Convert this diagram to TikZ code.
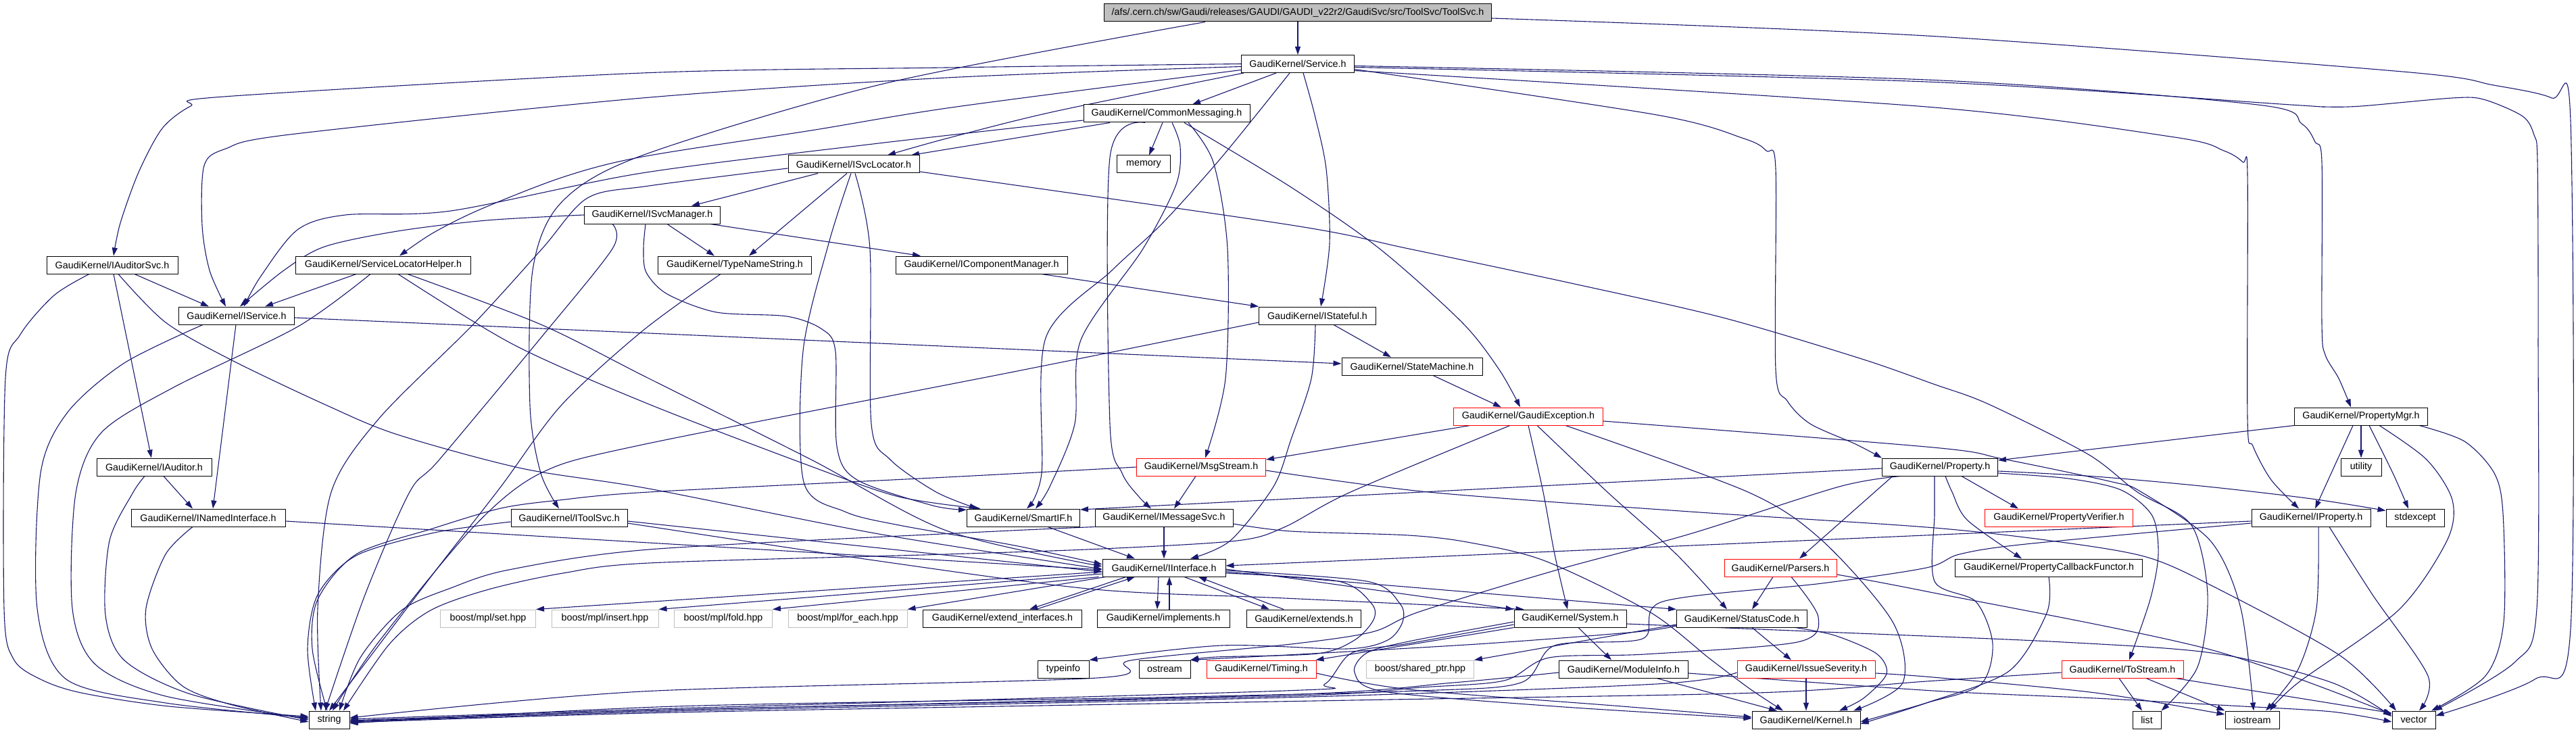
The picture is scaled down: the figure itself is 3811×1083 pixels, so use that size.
\documentclass[tikz,border=0pt]{standalone}
\usepackage{fontspec}
\setmainfont{Liberation Sans}
\usetikzlibrary{arrows.meta}
\definecolor{eb}{HTML}{191970}
\definecolor{rootgray}{HTML}{BFBFBF}
\definecolor{lgray}{HTML}{BFBFBF}
\pgfdeclarelayer{bg}
\pgfsetlayers{bg,main}
\tikzset{
  nd/.style={draw=black, line width=1pt, fill=white, rectangle, inner sep=0pt, minimum height=26pt, font=\fontsize{14.3}{17}\selectfont, text=black},
  rd/.style={nd, draw=red},
  gd/.style={nd, draw=lgray},
  ed/.style={draw=eb, line width=1.1pt, -{Triangle[length=12pt,width=8pt]}},
}
\newcommand{\edg}[1]{\draw[ed] plot[smooth, tension=0.5] coordinates {#1};}
\begin{document}
\begin{tikzpicture}[x=1pt,y=-1pt]
\useasboundingbox (0,0) rectangle (3811,1083);
% nodes
\node[nd, fill=rootgray, minimum width=573] (root) at (1920,19) {/afs/.cern.ch/sw/Gaudi/releases/GAUDI/GAUDI\_v22r2/GaudiSvc/src/ToolSvc/ToolSvc.h};
\node[nd, minimum width=167] (Service) at (1920,94.5) {GaudiKernel/Service.h};
\node[nd, minimum width=246] (CM) at (1726,168) {GaudiKernel/CommonMessaging.h};
\node[nd, minimum width=194] (SL) at (1263,243) {GaudiKernel/ISvcLocator.h};
\node[nd, minimum width=79] (mem) at (1692,243) {memory};
\node[nd, minimum width=201] (SM) at (965,318) {GaudiKernel/ISvcManager.h};
\node[nd, minimum width=194] (AS) at (166,392) {GaudiKernel/IAuditorSvc.h};
\node[nd, minimum width=259] (SLH) at (567,392) {GaudiKernel/ServiceLocatorHelper.h};
\node[nd, minimum width=227] (TNS) at (1087,392) {GaudiKernel/TypeNameString.h};
\node[nd, minimum width=254] (ICM) at (1452,392) {GaudiKernel/IComponentManager.h};
\node[nd, minimum width=171] (IS) at (350,467) {GaudiKernel/IService.h};
\node[nd, minimum width=173] (ISt) at (1949,467) {GaudiKernel/IStateful.h};
\node[nd, minimum width=208] (StM) at (2089,542) {GaudiKernel/StateMachine.h};
\node[rd, minimum width=221] (GE) at (2261,616) {GaudiKernel/GaudiException.h};
\node[nd, minimum width=197] (PM) at (3493,616) {GaudiKernel/PropertyMgr.h};
\node[nd, minimum width=170] (IA) at (228,691) {GaudiKernel/IAuditor.h};
\node[rd, minimum width=191] (MS) at (1777,691) {GaudiKernel/MsgStream.h};
\node[nd, minimum width=171] (Prop) at (2870,691) {GaudiKernel/Property.h};
\node[nd, minimum width=60] (util) at (3493,691) {utility};
\node[nd, minimum width=228] (INI) at (308,766) {GaudiKernel/INamedInterface.h};
\node[nd, minimum width=172] (ITS) at (842,766) {GaudiKernel/IToolSvc.h};
\node[nd, minimum width=167] (SIF) at (1514,766) {GaudiKernel/SmartIF.h};
\node[nd, minimum width=204] (IMS) at (1722,766) {GaudiKernel/IMessageSvc.h};
\node[rd, minimum width=219] (PV) at (3046,766) {GaudiKernel/PropertyVerifier.h};
\node[nd, minimum width=176] (IP) at (3419,766) {GaudiKernel/IProperty.h};
\node[nd, minimum width=86] (stdx) at (3573,766) {stdexcept};
\node[nd, minimum width=182] (II) at (1722,840) {GaudiKernel/IInterface.h};
\node[rd, minimum width=166] (Pa) at (2634,840) {GaudiKernel/Parsers.h};
\node[nd, minimum width=277] (PCF) at (3031,840) {GaudiKernel/PropertyCallbackFunctor.h};
\node[gd, minimum width=141] (bset) at (722,915) {boost/mpl/set.hpp};
\node[gd, minimum width=158] (bins) at (895,915) {boost/mpl/insert.hpp};
\node[gd, minimum width=145] (bfold) at (1070,915) {boost/mpl/fold.hpp};
\node[gd, minimum width=176] (bfe) at (1254,915) {boost/mpl/for\_each.hpp};
\node[nd, minimum width=235] (ei) at (1483,915) {GaudiKernel/extend\_interfaces.h};
\node[nd, minimum width=196] (impl) at (1721,915) {GaudiKernel/implements.h};
\node[nd, minimum width=169] (ext) at (1929,915) {GaudiKernel/extends.h};
\node[nd, minimum width=166] (Sys) at (2323,915) {GaudiKernel/System.h};
\node[nd, minimum width=193] (SC) at (2577,915) {GaudiKernel/StatusCode.h};
\node[nd, minimum width=76] (ti) at (1573,990) {typeinfo};
\node[nd, minimum width=76] (os) at (1723,990) {ostream};
\node[rd, minimum width=162] (Tim) at (1866,990) {GaudiKernel/Timing.h};
\node[gd, minimum width=159] (bsp) at (2101,990) {boost/shared\_ptr.hpp};
\node[nd, minimum width=191] (MI) at (2402,990) {GaudiKernel/ModuleInfo.h};
\node[rd, minimum width=204] (ISev) at (2672,990) {GaudiKernel/IssueSeverity.h};
\node[rd, minimum width=180] (TS) at (3140,990) {GaudiKernel/ToStream.h};
\node[nd, minimum width=60] (str) at (487,1065) {string};
\node[nd, minimum width=160] (Ker) at (2672,1065) {GaudiKernel/Kernel.h};
\node[nd, minimum width=42] (lst) at (3176,1065) {list};
\node[nd, minimum width=80] (ios) at (3332,1065) {iostream};
\node[nd, minimum width=64] (vec) at (3571,1065) {vector};
% edges
\begin{pgfonlayer}{bg}
% root
\draw[ed] (root.south) -- (Service.north);
\edg{([xshift=-137]root.south) (1311,123) (950,230) (830,300) (788,400) (784,600) (800,700) ([xshift=-15]ITS.north)}
\edg{([yshift=-8]root.east) (2850,53) (3554,106) (3689,126) (3775,145) (3803,180) (3803,930) (3750,1005) ([yshift=6]vec.east)}
% Service
\draw[ed] ([xshift=-32]Service.south) -- ([xshift=38]CM.north);
\edg{([xshift=-80]Service.south) (1560,165) (1400,205) ([xshift=50]SL.north)}
\edg{(Service.west) (1400,100) (950,108) (331,143) (282,157) (240,190) (205,255) (178,330) ([xshift=2]AS.north)}
\edg{([yshift=-4]Service.west) (1400,115) (950,145) (429,199) (334,220) (302,245) (299,333) (310,400) ([xshift=-16]IS.north)}
\edg{([yshift=-9]Service.west) (1415,158) (1200,193) (950,232) (833,262) (710,310) (640,345) ([xshift=24]SLH.north)}
\edg{([xshift=-12]Service.south) (1807,233) (1720,330) (1645,400) (1547,500) (1541,700) ([xshift=5]SIF.north)}
\edg{([xshift=8]Service.south) (1945,170) (1962,250) (1967,360) ([xshift=5]ISt.north)}
\edg{([yshift=-8]Service.east) (2451,170) (2580,205) (2613,223) (2627,250) (2627,547) (2644,593) (2678,627) (2745,657) (Prop.north west)}
\edg{([yshift=-3]Service.east) (2850,118) (3340,155) (3405,183) (3425,210) (3435,240) (3435,480) (3440,525) (3460,560) ([xshift=-15]PM.north)}
\edg{([yshift=-5]Service.east) (2850,121) (3389,155) (3438,158) (3493,157) (3628,145) (3674,147) (3732,172) (3749,200) (3754,240) (3755,500) (3753,900) (3720,980) ([xshift=30]vec.north)}
\edg{([yshift=-10]Service.east) (2850,158) (3217,203) (3290,223) (3318,240) (3325,260) (3325,620) (3333,660) (3360,710) ([xshift=-18]IP.north)}
% CommonMessaging
\draw[ed] ([xshift=-84]CM.south) -- ([xshift=85]SL.north);
\draw[ed] ([xshift=-6]CM.south) -- ([xshift=8]mem.north);
\edg{([yshift=-10]CM.west) (1300,212) (950,256) (667,312) (511,318) (440,340) (385,410) ([xshift=11]IS.north)}
\edg{([xshift=8]CM.south) (1746,217) (1740,273) (1691,368) (1599,503) (1590,627) (1553,720) ([xshift=18]SIF.north)}
\edg{([xshift=-32]CM.south) (1642,233) (1642,627) (1660,700) (1685,735) ([xshift=-19]IMS.north)}
\edg{([xshift=32]CM.south) (1795,240) (1816,368) (1813,560) ([xshift=6]MS.north)}
\edg{([xshift=26]CM.south) (1910,277) (2041,368) (2163,477) (2218,547) ([xshift=-12]GE.north)}
% ISvcLocator
\draw[ed] ([xshift=-53]SL.south) -- ([xshift=58]SM.north);
\draw[ed] ([xshift=-10]SL.south) -- ([xshift=21]TNS.north);
\edg{([xshift=2]SL.south) (1287,368) (1289,627) (1317,680) (1385,728) ([xshift=-68]SIF.north)}
\edg{([xshift=-4]SL.south) (1226,360) (1188,520) (1189,713) (1250,757) (1330,777) (1501,807) ([yshift=5]II.west)}
\edg{([yshift=-6]SL.west) (960,275) (869,293) (802,368) (700,480) (560,620) (490,728) (470,900) ([xshift=-12]str.north)}
\edg{([yshift=-11]SL.east) (1910,333) (2084,368) (2329,420) (2549,470) (2751,530) (2860,568) (2942,598) (3089,672) (3162,728) (3242,777) (3266,880) (3251,987) (lst.north east)}
% ISvcManager
\edg{(SM.west) (720,326) (588,342) (480,365) (420,400) ([xshift=5]IS.north)}
\draw[ed] ([xshift=22]SM.south) -- ([xshift=-30]TNS.north);
\draw[ed] ([xshift=86]SM.south) -- ([xshift=-90]ICM.north);
\edg{([xshift=-59]SM.south) (906,368) (800,500) (650,680) (606,728) (540,880) ([xshift=-6]str.north)}
\edg{([xshift=-10]SM.south) (952,368) (956,403) (987,435) (1060,462) (1164,468) (1216,487) (1236,520) (1238,660) (1268,710) (1380,748) (SIF.172)}
% IAuditorSvc
\draw[ed] ([xshift=33]AS.south) -- ([xshift=-41]IS.north);
\draw[ed] ([xshift=2]AS.south) -- ([xshift=-4]IA.north);
\edg{([xshift=-34]AS.south) (80,437) (30,495) (8,560) (6,900) (20,975) (60,1005) (120,1025) (250,1045) ([yshift=5]str.west)}
\edg{([xshift=9]AS.south) (245,477) (343,533) (484,600) (588,643) (772,693) (960,723) (1300,790) ([yshift=-2]II.west)}
% ServiceLocatorHelper
\draw[ed] ([xshift=-40]SLH.south) -- ([xshift=42]IS.north);
\edg{([xshift=22]SLH.south) (760,510) (960,598) (1200,690) (1330,735) (SIF.168)}
\edg{([xshift=36]SLH.south) (800,480) (960,560) (1200,680) (1400,785) ([yshift=2]II.west)}
\edg{([xshift=-19]SLH.south) (441,483) (257,573) (150,640) (112,730) (107,900) (141,983) (245,1030) ([yshift=2]str.west)}
% IService
\draw[ed] ([xshift=-1]IS.south) -- ([xshift=7]INI.north);
\draw[ed] ([yshift=-3]IS.east) -- ([yshift=4]StM.west);
\edg{([xshift=-50]IS.south) (184,537) (100,610) (60,700) (55,900) (98,1005) (245,1040) ([yshift=3]str.west)}
% IAuditor, INamedInterface
\draw[ed] ([xshift=14]IA.south) -- ([xshift=-23]INI.north);
\edg{([xshift=-14]IA.south) (196,730) (162,800) (156,910) (184,977) (282,1027) (str.west)}
\edg{([xshift=-23]INI.south) (245,820) (216,900) (225,960) (270,1015) (340,1042) ([yshift=-3]str.west)}
\draw[ed] ([yshift=-5]INI.east) -- ([yshift=-3]II.west);
% IToolSvc
\draw[ed] ([yshift=-5]ITS.east) -- ([yshift=-6]II.west);
\edg{([yshift=-8]ITS.east) (1300,830) (1620,872) (1900,885) ([xshift=15]Sys.north west)}
\edg{([yshift=-6]ITS.west) (643,788) (527,822) (470,880) (455,960) ([xshift=-20]str.north)}
% TypeNameString, IComponentManager, IStateful, StateMachine
\edg{([xshift=-21]TNS.south) (950,490) (830,600) (741,720) (640,850) ([xshift=0]str.north)}
\draw[ed] ([xshift=89]ICM.south) -- (ISt.north west);
\draw[ed] ([xshift=24]ISt.south) -- ([xshift=-31]StM.north);
\edg{([xshift=-3]ISt.south) (1940,560) (1910,650) (1884,720) (1820,800) ([xshift=39]II.north)}
\edg{([yshift=-10]ISt.west) (1500,550) (950,658) (800,700) (700,780) (560,950) ([xshift=5]str.north)}
\draw[ed] ([xshift=31]StM.south) -- ([xshift=-40]GE.north);
% GaudiException
\draw[ed] ([xshift=-86]GE.south) -- ([yshift=11]MS.east);
\edg{([xshift=-27]GE.south) (1998,728) (1900,780) (1830,800) (1630,812) (1400,820) (960,833) (833,848) (723,872) (637,903) (576,953) ([xshift=21]str.north)}
\edg{(GE.south) (2283,728) (2300,820) ([xshift=-4]Sys.north)}
\edg{([xshift=13]GE.south) (2378,728) (2480,820) ([xshift=-22]SC.north)}
\edg{([xshift=55]GE.south) (2586,728) (2696,800) (2800,920) (2815,1010) ([xshift=70]Ker.north)}
\edg{([yshift=-7]GE.east) (2860,662) (2963,679) (3125,713) (3168,728) (3270,800) (3315,900) ([xshift=2]ios.north)}
% MsgStream
\draw[ed] ([xshift=-8]MS.south) -- ([xshift=15]IMS.north);
\edg{(MS.west) (1400,706) (960,728) (827,740) (741,752) (640,782) (527,820) (470,887) (462,960) ([xshift=-3]str.north)}
\edg{([yshift=-5]MS.east) (2113,728) (2500,757) (2850,780) (3034,800) (3175,824) (3279,870) (3462,970) ([xshift=-26]vec.north)}
% SmartIF, IMessageSvc
\draw[ed] ([xshift=36]SIF.south) -- ([xshift=-43]II.north);
\draw[ed] (IMS.south) -- (II.north);
\edg{(IMS.south west) (1434,788) (960,813) (753,843) (667,870) (594,903) (533,973) ([xshift=15]str.north)}
\edg{([yshift=-9]IMS.east) (1910,786) (2084,792) (2176,803) (2286,830) (2440,905) (2530,975) (2590,1020) ([xshift=-34]Ker.north)}
% IInterface
\draw[ed] ([xshift=-56]II.south) -- ([xshift=40]ei.north);
\draw[ed] ([xshift=50]ei.north) -- ([xshift=-43]II.south);
\draw[ed] ([xshift=-8]II.south) -- ([xshift=-9]impl.north);
\draw[ed] ([xshift=9]impl.north) -- ([xshift=8]II.south);
\draw[ed] ([xshift=30]II.south) -- ([xshift=-51]ext.north);
\draw[ed] ([xshift=-30]ext.north) -- ([xshift=51]II.south);
\draw[ed] ([yshift=-6]II.west) -- (bset.north east);
\draw[ed] ([yshift=-9]II.west) -- (bins.north east);
\draw[ed] ([xshift=-5]II.south west) -- (bfold.north east);
\draw[ed] ([xshift=5]II.south west) -- (bfe.north east);
\draw[ed] ([yshift=-2]II.east) -- (Sys.north west);
\draw[ed] ([yshift=-6]II.east) -- (SC.north west);
\edg{([yshift=-4]II.east) (2022,860) (2071,893) (2075,920) (2053,947) (1992,960) (1807,955) (ti.north east)}
\edg{([yshift=-8]II.east) (1980,860) (2029,893) (2032,917) (2004,947) (1949,967) (1800,972) (os.north east)}
% System
\draw[ed] (Sys.south west) -- ([xshift=-1]Tim.north east);
\draw[ed] ([xshift=12]Sys.south) -- ([xshift=-18]MI.north);
\edg{([yshift=-5]Sys.west) (2084,949) (2022,966) (2004,995) (2047,1023) (2300,1045) ([yshift=2]Ker.west)}
\edg{([yshift=-9]Sys.west) (2084,952) (2000,966) (1960,1012) (1900,1022) (1000,1048) ([yshift=1]str.east)}
\edg{([yshift=-8]Sys.east) (2700,935) (3052,950) (3279,967) (3450,1010) ([yshift=5]vec.west)}
% StatusCode
\draw[ed] ([xshift=15]SC.south) -- ([xshift=-22]ISev.north);
\draw[ed] ([yshift=-9]SC.west) -- (bsp.north east);
\edg{([xshift=79]SC.south) (2714,940) (2776,967) (2791,997) (2757,1033) ([xshift=49]Ker.north)}
\edg{([yshift=-11]SC.west) (2420,935) (2200,952) (1960,966) ([xshift=-1]os.north east)}
% Parsers
\draw[ed] ([xshift=-11]Pa.south) -- ([xshift=15]SC.north);
\edg{([xshift=16]Pa.south) (2690,913) (2659,950) (2433,968) (2292,973) (2225,1007) (2102,1017) (1900,1030) (1000,1050) ([yshift=-2]str.east)}
\edg{([yshift=-10]Pa.east) (2850,875) (3266,960) ([yshift=8]vec.west)}
% IssueSeverity, ModuleInfo, Timing
\draw[ed] (ISev.south) -- (Ker.north);
\edg{([yshift=-5]ISev.west) (2450,1012) (1900,1032) (1000,1052) ([yshift=-3]str.east)}
\edg{([yshift=-6]ISev.east) (2860,1002) (3100,1025) ([yshift=8]ios.west)}
\draw[ed] ([xshift=49]MI.south) -- ([xshift=-43]Ker.north);
\edg{([yshift=-5]MI.west) (2150,1010) (1900,1028) (1000,1050) ([yshift=-1]str.east)}
\edg{([yshift=-6]MI.east) (2860,1022) (3100,1033) (3300,1044) (3450,1053) ([yshift=-3]vec.west)}
\edg{([yshift=-6]Tim.east) (2084,1020) (2400,1045) ([yshift=4]Ker.west)}
% ToStream, PropertyCallbackFunctor
\draw[ed] ([xshift=-5]TS.south) -- ([xshift=-7]lst.north);
\draw[ed] ([xshift=35]TS.south) -- (ios.north west);
\draw[ed] ([xshift=-12]TS.south east) -- ([yshift=10]vec.west);
\edg{([yshift=-5]TS.west) (2850,1008) (2600,1025) (2000,1036) (1000,1054) ([yshift=-4]str.east)}
\edg{(PCF.south) (3028,907) (2972,993) (2850,1040) ([yshift=-6]Ker.east)}
% Property
\draw[ed] ([yshift=-2]Prop.west) -- ([yshift=12]SIF.east);
\draw[ed] ([xshift=32]Prop.south) -- ([xshift=-60]PV.north);
\edg{([xshift=8]Prop.south) (2888,728) (2911,770) ([xshift=-40]PCF.north)}
\draw[ed] ([xshift=-70]Prop.south) -- ([xshift=28]Pa.north);
\edg{([yshift=-6]Prop.east) (3100,705) (3266,720) (3420,738) ([yshift=-3]stdx.north west)}
\edg{([yshift=-9]Prop.east) (3060,708) (3138,725) (3184,763) (3193,820) (3181,887) ([xshift=10]TS.north)}
\edg{([xshift=-8]Prop.south) (2862,760) (2862,860) (2923,890) (2948,953) (2930,1013) (2850,1040) ([yshift=-3]Ker.east)}
\edg{([xshift=-58]Prop.south) (2721,720) (2500,790) (2304,843) (2100,905) (2030,935) (1910,953) (1673,977) (1623,1003) (950,1023) ([yshift=3]str.east)}
% PropertyMgr
\draw[ed] (PM.south west) -- ([yshift=10]Prop.east);
\draw[ed] (PM.south) -- (util.north);
\draw[ed] ([xshift=-12]PM.south) -- ([xshift=6]IP.north);
\edg{([xshift=12]PM.south) (3540,700) ([xshift=-10]stdx.north)}
\edg{([xshift=27]PM.south) (3590,680) (3628,740) (3620,800) (3548,903) (3400,1010) ([xshift=26]ios.north)}
\edg{([xshift=86]PM.south) (3646,653) (3690,700) (3703,760) (3704,920) (3677,1000) ([xshift=26]vec.north)}
% IProperty
\draw[ed] ([yshift=-5]IP.west) -- ([yshift=3]II.east);
\edg{([yshift=-8]IP.west) (2997,805) (2899,820) (2850,840) (2696,863) (2460,890) (2430,945) (2300,955) (2250,1010) (2100,1022) (1700,1032) (1000,1045) ([yshift=-5]str.east)}
\edg{([xshift=11]IP.south) (3427,900) (3400,990) ([xshift=20]ios.north)}
\edg{([xshift=27]IP.south) (3510,880) (3592,1000) ([xshift=8]vec.north)}
\end{pgfonlayer}
\end{tikzpicture}
\end{document}
